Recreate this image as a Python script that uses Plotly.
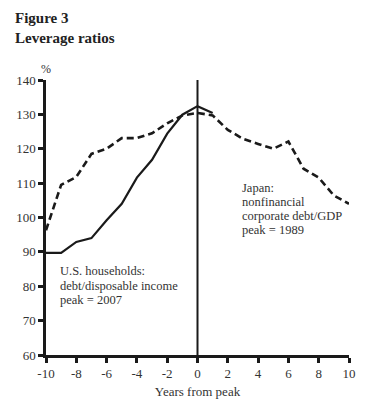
import plotly.graph_objects as go

years = list(range(-10, 11))
us_years = list(range(-10, 2))
us_households = [89.7, 89.7, 92.9, 94.0, 99.2, 104.0, 111.6, 116.8, 124.4, 129.9, 132.4, 130.4]
japan_corporate = [96.3, 109.5, 111.8, 118.5, 120.0, 123.1, 123.1, 124.5, 127.4, 129.7, 130.4,
                   129.7, 125.5, 122.9, 121.4, 120.0, 122.1, 114.2, 111.6, 106.4, 104.0]
x_ticks = list(range(-10, 11, 2))
x_tick_labels = [str(v) for v in x_ticks]
y_ticks = list(range(60, 141, 10))
japan_label = ["Japan:", "nonfinancial", "corporate debt/GDP", "peak = 1989"]
us_label = ["U.S. households:", "debt/disposable income", "peak = 2007"]

FONT = "Liberation Serif"
INK = "#1a1a1a"
TXT = "#333"

fig = go.Figure()
fig.add_trace(go.Scatter(x=years, y=japan_corporate, mode="lines",
                         line=dict(color=INK, width=2.6, dash="7px,4px"),
                         showlegend=False, hoverinfo="skip"))
fig.add_trace(go.Scatter(x=us_years, y=us_households, mode="lines",
                         line=dict(color=INK, width=2.2),
                         showlegend=False, hoverinfo="skip"))
fig.add_trace(go.Scatter(x=[0, 0], y=[60, 140], mode="lines",
                         line=dict(color=INK, width=2),
                         showlegend=False, hoverinfo="skip"))

annotations = [
    dict(text="<b>Figure 3</b>", xref="paper", yref="paper", x=-0.11, y=1.225,
         xanchor="left", yanchor="middle", showarrow=False,
         font=dict(family=FONT, size=15, color="#222")),
    dict(text="<b>Leverage ratios</b>", xref="paper", yref="paper", x=-0.11, y=1.153,
         xanchor="left", yanchor="middle", showarrow=False,
         font=dict(family=FONT, size=15, color="#222")),
    dict(text="%", xref="x", yref="paper", x=-10, y=1.0, yshift=2,
         xanchor="center", yanchor="bottom", showarrow=False,
         font=dict(family=FONT, size=12, color=TXT)),
]
for i, line in enumerate(japan_label):
    annotations.append(dict(text=line, xref="x", yref="y", x=2.8, y=108.7,
                            yshift=-14 * i, xanchor="left", yanchor="middle",
                            showarrow=False, font=dict(family=FONT, size=12.5, color=TXT)))
for i, line in enumerate(us_label):
    annotations.append(dict(text=line, xref="x", yref="y", x=-9.2, y=84.3,
                            yshift=-14.2 * i, xanchor="left", yanchor="middle",
                            showarrow=False, font=dict(family=FONT, size=12.5, color=TXT)))

fig.update_layout(
    width=378, height=411,
    margin=dict(l=46, r=29, t=80, b=56),
    paper_bgcolor="white", plot_bgcolor="white",
    font=dict(family=FONT, size=12, color=TXT),
    xaxis=dict(range=[-10, 10], tickvals=x_ticks, ticktext=x_tick_labels,
               showgrid=False, zeroline=False,
               showline=True, linecolor=INK, linewidth=2.5, ticks="outside",
               ticklen=5, tickwidth=2.5, tickcolor=INK,
               tickfont=dict(family=FONT, size=13, color=TXT),
               title=dict(text="Years from peak", font=dict(family=FONT, size=13, color=TXT),
                          standoff=7)),
    yaxis=dict(range=[60, 140], tickvals=y_ticks, showgrid=False, zeroline=False,
               showline=True, linecolor=INK, linewidth=2.5, ticks="outside",
               ticklen=5, tickwidth=2.5, tickcolor=INK,
               tickfont=dict(family=FONT, size=13, color=TXT)),
    annotations=annotations,
)

fig.write_html("out.html", config={"displayModeBar": False},
               post_script="document.body.style.margin='0';")
